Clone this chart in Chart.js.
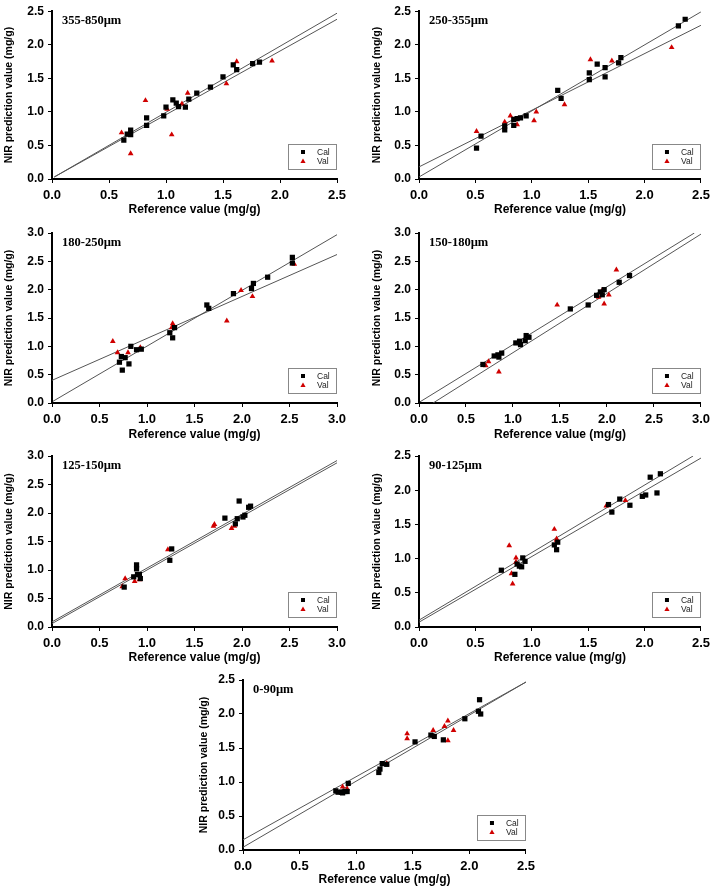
<!DOCTYPE html>
<html lang="en">
<head>
<meta charset="UTF-8">
<title>NIR prediction vs reference value</title>
<script src="https://cdn.jsdelivr.net/npm/chart.js"></script>
<style>
  body { margin: 0; background: #fff; }
  #figure { position: relative; width: 715px; height: 892px; background: #fff; }
  #figure canvas { position: absolute; }
</style>
</head>
<body>
<div id="figure"></div>
<script>
// particle size fractions, one panel each
const panelLabels = ['355-850\u00b5m', '250-355\u00b5m', '180-250\u00b5m', '150-180\u00b5m',
                     '125-150\u00b5m', '90-125\u00b5m', '0-90\u00b5m'];
const axisMax = [2.5, 2.5, 3.0, 3.0, 3.0, 2.5, 2.5];

// [reference, predicted] pairs
const cal355 = [[0.63,0.58],[0.66,0.67],[0.69,0.73],[0.69,0.66],[0.83,0.80],[0.83,0.91],[0.98,0.94],
  [1.00,1.07],[1.06,1.18],[1.09,1.13],[1.11,1.08],[1.17,1.07],[1.20,1.19],[1.27,1.28],[1.39,1.37],
  [1.50,1.52],[1.59,1.70],[1.62,1.63],[1.76,1.72],[1.82,1.74]];
const val355 = [[0.61,0.69],[0.69,0.38],[0.82,1.17],[1.01,1.04],[1.05,0.66],[1.14,1.12],[1.19,1.28],
  [1.53,1.42],[1.62,1.75],[1.93,1.76]];
const fit355 = [[[0.02,0.03],[2.5,2.47]], [[0.02,0.03],[2.5,2.38]]];

const cal250 = [[0.51,0.46],[0.55,0.64],[0.76,0.73],[0.76,0.79],[0.84,0.89],[0.84,0.80],[0.87,0.90],
  [0.90,0.91],[0.95,0.94],[1.23,1.32],[1.26,1.20],[1.51,1.58],[1.51,1.48],[1.58,1.71],[1.65,1.66],
  [1.65,1.52],[1.77,1.73],[1.79,1.81],[2.30,2.28],[2.36,2.38]];
const val250 = [[0.51,0.71],[0.76,0.85],[0.81,0.94],[0.87,0.81],[1.02,0.87],[1.04,1.00],[1.29,1.11],
  [1.52,1.78],[1.71,1.76],[2.24,1.96]];
const fit250 = [[[0,0.03],[2.5,2.49]], [[0,0.18],[2.5,2.29]]];

const cal180 = [[0.71,0.72],[0.73,0.82],[0.74,0.58],[0.77,0.80],[0.81,0.69],[0.83,1.00],[0.89,0.94],
  [0.94,0.95],[1.24,1.24],[1.27,1.15],[1.29,1.33],[1.63,1.73],[1.65,1.67],[1.91,1.93],[2.10,2.02],
  [2.12,2.11],[2.27,2.22],[2.53,2.57],[2.53,2.47]];
const val180 = [[0.64,1.09],[0.69,0.89],[0.80,0.89],[0.93,0.98],[1.26,1.33],[1.27,1.40],[1.84,1.45],
  [1.99,1.99],[2.11,1.88],[2.55,2.45]];
const fit180 = [[[0.01,0.03],[3.0,2.97]], [[0,0.40],[3.0,2.62]]];

const cal150 = [[0.68,0.68],[0.80,0.83],[0.84,0.85],[0.85,0.81],[0.88,0.88],[1.03,1.06],[1.07,1.09],
  [1.08,1.03],[1.13,1.10],[1.14,1.19],[1.17,1.16],[1.61,1.66],[1.80,1.73],[1.89,1.90],[1.93,1.96],
  [1.95,1.91],[1.97,2.00],[2.13,2.13],[2.24,2.25]];
const val150 = [[0.71,0.66],[0.74,0.73],[0.85,0.55],[1.47,1.73],[1.91,1.87],[1.95,1.99],[1.97,1.75],
  [2.02,1.91],[2.10,2.35]];
const fit150 = [[[0.01,0.02],[2.93,3.0]], [[0.15,0],[3.0,2.98]]];

const cal125 = [[0.76,0.70],[0.86,0.88],[0.89,1.09],[0.89,1.02],[0.90,0.92],[0.92,0.92],[0.93,0.85],
  [1.24,1.17],[1.26,1.37],[1.82,1.91],[1.93,1.81],[1.95,1.90],[1.97,2.21],[2.01,1.93],[2.03,1.96],
  [2.07,2.10],[2.09,2.12]];
const val125 = [[0.74,0.71],[0.77,0.85],[0.87,0.80],[0.92,0.83],[1.22,1.36],[1.70,1.77],[1.71,1.80],
  [1.89,1.73],[1.92,1.77]];
const fit125 = [[[0,0.09],[3.0,2.92]], [[0,0.06],[3.0,2.88]]];

const cal90 = [[0.73,0.83],[0.85,0.77],[0.87,0.92],[0.89,0.89],[0.91,0.88],[0.92,1.01],[0.94,0.96],
  [1.20,1.20],[1.22,1.13],[1.23,1.24],[1.68,1.79],[1.71,1.68],[1.78,1.87],[1.87,1.78],[1.98,1.91],
  [2.01,1.93],[2.05,2.19],[2.11,1.96],[2.14,2.24]];
const val90 = [[0.80,1.19],[0.82,0.78],[0.83,0.63],[0.86,1.01],[0.86,0.95],[1.20,1.43],[1.22,1.29],
  [1.22,1.27],[1.66,1.77],[1.83,1.85]];
const fit90 = [[[0,0.10],[2.43,2.5]], [[0,0.07],[2.5,2.47]]];

const cal0 = [[0.82,0.87],[0.84,0.85],[0.87,0.85],[0.88,0.84],[0.90,0.86],[0.92,0.86],[0.93,0.98],
  [1.20,1.14],[1.21,1.19],[1.23,1.27],[1.27,1.26],[1.52,1.59],[1.66,1.69],[1.69,1.67],[1.77,1.62],
  [1.96,1.93],[2.08,2.04],[2.09,2.21],[2.10,2.00]];
const val0 = [[0.88,0.93],[0.92,0.90],[1.27,1.27],[1.45,1.71],[1.45,1.64],[1.68,1.76],[1.78,1.82],
  [1.81,1.90],[1.81,1.61],[1.86,1.76]];
const fit0 = [[[0,0.15],[2.5,2.47]], [[0,0.04],[2.5,2.47]]];

const calSets = [cal355, cal250, cal180, cal150, cal125, cal90, cal0];
const valSets = [val355, val250, val180, val150, val125, val90, val0];
const fitSets = [fit355, fit250, fit180, fit150, fit125, fit90, fit0];

// canvas placement on the page (px)
const layout = [
  {left: 0,   top: 0,   w: 357, h: 219, yW: 52, xH: 40, padT: 10, padR: 20},
  {left: 368, top: 0,   w: 347, h: 219, yW: 51, xH: 40, padT: 10, padR: 12},
  {left: 0,   top: 215, w: 357, h: 229, yW: 52, xH: 41, padT: 18, padR: 20},
  {left: 368, top: 215, w: 347, h: 229, yW: 51, xH: 41, padT: 18, padR: 12},
  {left: 0,   top: 440, w: 357, h: 227, yW: 52, xH: 40, padT: 16, padR: 20},
  {left: 368, top: 440, w: 347, h: 227, yW: 51, xH: 40, padT: 16, padR: 12},
  {left: 195, top: 662, w: 345, h: 227, yW: 48, xH: 39, padT: 18, padR: 12}
];

const CAL_COLOR = '#000000';
const VAL_COLOR = '#d00000';

// panel name + the small boxed legend in the lower right
const panelDecor = {
  id: 'panelDecor',
  afterDraw(chart, args, opts) {
    const ctx = chart.ctx;
    const a = chart.chartArea;
    ctx.save();
    ctx.fillStyle = '#000';
    ctx.font = 'bold 12.5px "Liberation Serif", "Times New Roman", serif';
    ctx.textBaseline = 'middle';
    ctx.textAlign = 'left';
    ctx.fillText(opts.label, a.left + 10, a.top + 10);

    const bw = 48, bh = 25;
    const bx = a.right - 1 - bw, by = a.bottom - 10 - bh;
    ctx.strokeStyle = '#888';
    ctx.lineWidth = 1;
    ctx.strokeRect(Math.round(bx) + 0.5, Math.round(by) + 0.5, bw, bh);
    ctx.font = '8.5px "Liberation Sans", Arial, sans-serif';
    chart.data.datasets.slice(0, 2).forEach((ds, k) => {
      const mx = bx + 15, my = by + 8 + k * 9;
      ctx.fillStyle = ds.backgroundColor;
      if (ds.pointStyle === 'rect') {
        ctx.fillRect(mx - 2, my - 2, 4, 4);
      } else {
        ctx.beginPath();
        ctx.moveTo(mx, my - 2.5);
        ctx.lineTo(mx + 2.6, my + 2);
        ctx.lineTo(mx - 2.6, my + 2);
        ctx.closePath();
        ctx.fill();
      }
      ctx.fillStyle = '#222';
      ctx.fillText(ds.label, bx + 29, my + 0.5);
    });
    ctx.restore();
  }
};

const fig = document.getElementById('figure');
const toPts = arr => arr.map(p => ({x: p[0], y: p[1]}));

function makePanel(i) {
  const L = layout[i];
  const canvas = document.createElement('canvas');
  canvas.width = L.w;
  canvas.height = L.h;
  canvas.style.left = L.left + 'px';
  canvas.style.top = L.top + 'px';
  fig.appendChild(canvas);

  const datasets = [
    {label: 'Cal', data: toPts(calSets[i]), pointStyle: 'rect', pointRadius: 3.7,
     backgroundColor: CAL_COLOR, borderColor: CAL_COLOR, borderWidth: 0},
    {label: 'Val', data: toPts(valSets[i]), pointStyle: 'triangle', pointRadius: 3.3,
     backgroundColor: VAL_COLOR, borderColor: VAL_COLOR, borderWidth: 0}
  ];
  fitSets[i].forEach(f => datasets.push({
    label: 'fit', data: toPts(f), showLine: true, pointRadius: 0,
    borderColor: '#555', borderWidth: 1, fill: false
  }));

  const tickFmt = v => Number(v).toFixed(1);
  new Chart(canvas, {
    type: 'scatter',
    data: {datasets},
    options: {
      responsive: false,
      animation: false,
      events: [],
      layout: {padding: {top: L.padT, right: L.padR, left: 0, bottom: 0}},
      plugins: {
        legend: {display: false},
        tooltip: {enabled: false},
        panelDecor: {label: panelLabels[i]}
      },
      scales: {
        x: {
          type: 'linear', min: 0, max: axisMax[i],
          ticks: {stepSize: 0.5, callback: tickFmt, color: '#000', padding: 5,
                  maxRotation: 0, autoSkip: false,
                  font: {family: '"Liberation Sans", Arial, sans-serif', size: 13, weight: 'bold'}},
          grid: {drawOnChartArea: false, drawTicks: true, tickLength: 4, color: '#000'},
          border: {color: '#000', width: 2},
          title: {display: true, text: 'Reference value (mg/g)', color: '#000',
                  padding: {top: 0, bottom: 2},
                  font: {family: '"Liberation Sans", Arial, sans-serif', size: 12, weight: 'bold'}},
          afterFit: s => { s.height = L.xH; }
        },
        y: {
          type: 'linear', min: 0, max: axisMax[i],
          ticks: {stepSize: 0.5, callback: tickFmt, color: '#000', padding: 4,
                  font: {family: '"Liberation Sans", Arial, sans-serif', size: 12, weight: 'bold'}},
          grid: {drawOnChartArea: false, drawTicks: true, tickLength: 4, color: '#000'},
          border: {color: '#000', width: 2},
          title: {display: true, text: 'NIR prediction value (mg/g)', color: '#000',
                  padding: {top: 3, bottom: 0},
                  font: {family: '"Liberation Sans", Arial, sans-serif', size: 10.5, weight: 'bold'}},
          afterFit: s => { s.width = L.yW; }
        }
      }
    },
    plugins: [panelDecor]
  });
}

for (let i = 0; i < panelLabels.length; i++) makePanel(i);
</script>
</body>
</html>
